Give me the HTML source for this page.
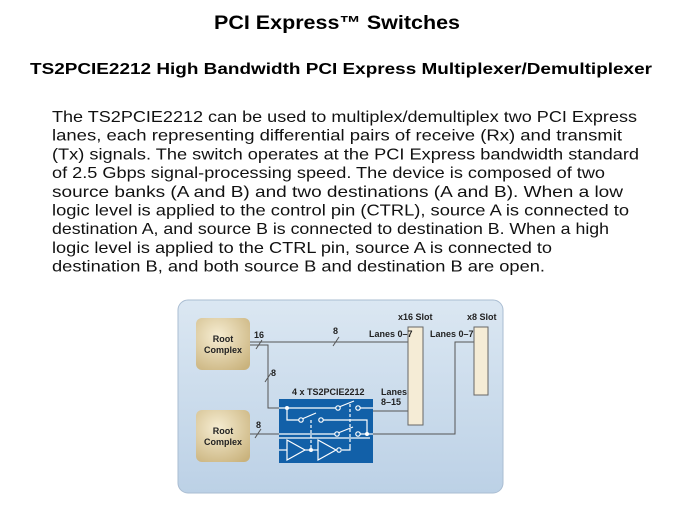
<!DOCTYPE html>
<html><head><meta charset="utf-8"><style>
html,body{margin:0;padding:0;background:#fff;}
svg{display:block}
</style></head><body>
<svg width="674" height="506" viewBox="0 0 674 506" xmlns="http://www.w3.org/2000/svg" font-family="'Liberation Sans', sans-serif">
<defs>
<linearGradient id="bg" x1="0" y1="0" x2="0" y2="1"><stop offset="0" stop-color="#dbe7f2"/><stop offset="1" stop-color="#bcd1e6"/></linearGradient>
<radialGradient id="rc" cx="0.4" cy="0.35" r="0.8"><stop offset="0" stop-color="#f6edd2"/><stop offset="1" stop-color="#c9b27c"/></radialGradient>
</defs>
<text x="337" y="29" text-anchor="middle" font-size="19" font-weight="bold" textLength="246" lengthAdjust="spacingAndGlyphs">PCI Express™ Switches</text>
<text x="341" y="74" text-anchor="middle" font-size="16" font-weight="bold" textLength="622" lengthAdjust="spacingAndGlyphs">TS2PCIE2212 High Bandwidth PCI Express Multiplexer/Demultiplexer</text>
<g font-size="16" fill="#111">
<text x="52" y="122" textLength="585" lengthAdjust="spacingAndGlyphs">The TS2PCIE2212 can be used to multiplex/demultiplex two PCI Express</text>
<text x="52" y="140.7" textLength="570" lengthAdjust="spacingAndGlyphs">lanes, each representing differential pairs of receive (Rx) and transmit</text>
<text x="52" y="159.4" textLength="587" lengthAdjust="spacingAndGlyphs">(Tx) signals. The switch operates at the PCI Express bandwidth standard</text>
<text x="52" y="178.1" textLength="553" lengthAdjust="spacingAndGlyphs">of 2.5 Gbps signal-processing speed. The device is composed of two</text>
<text x="52" y="196.8" textLength="571" lengthAdjust="spacingAndGlyphs">source banks (A and B) and two destinations (A and B). When a low</text>
<text x="52" y="215.5" textLength="577" lengthAdjust="spacingAndGlyphs">logic level is applied to the control pin (CTRL), source A is connected to</text>
<text x="52" y="234.2" textLength="557" lengthAdjust="spacingAndGlyphs">destination A, and source B is connected to destination B. When a high</text>
<text x="52" y="252.9" textLength="500" lengthAdjust="spacingAndGlyphs">logic level is applied to the CTRL pin, source A is connected to</text>
<text x="52" y="271.6" textLength="493" lengthAdjust="spacingAndGlyphs">destination B, and both source B and destination B are open.</text>
</g>
<rect x="178" y="300" width="325" height="193" rx="10" fill="url(#bg)" stroke="#aabdd2"/>
<rect x="196" y="318" width="54" height="52" rx="6" fill="url(#rc)"/>
<rect x="196" y="410" width="54" height="52" rx="6" fill="url(#rc)"/>
<g font-size="9" font-weight="bold" fill="#222" text-anchor="middle">
<text x="223" y="342">Root</text><text x="223" y="353">Complex</text>
<text x="223" y="434">Root</text><text x="223" y="445">Complex</text>
</g>
<g stroke="#555" stroke-width="1" fill="none">
<polyline points="250,342 408,342"/>
<polyline points="250,345 268,345 268,408 279,408"/>
<polyline points="373,411 408,411"/>
<polyline points="250,434 279,434"/>
<polyline points="373,434 455,434 455,342 474,342"/>
<line x1="256" y1="349" x2="262" y2="340"/><line x1="333" y1="346" x2="339" y2="337"/>
<line x1="265" y1="382" x2="271" y2="373"/><line x1="255" y1="438" x2="261" y2="429"/>
</g>
<rect x="408" y="327" width="15" height="98" fill="#f5ecd6" stroke="#666"/>
<rect x="474" y="327" width="14" height="68" fill="#f5ecd6" stroke="#666"/>
<rect x="279" y="399" width="94" height="64" fill="#1260a8"/>
<g stroke="#fff" stroke-width="1.2" fill="none">
<line x1="279" y1="408" x2="336" y2="408"/><line x1="360" y1="408" x2="373" y2="408"/>
<line x1="339" y1="407" x2="354" y2="401"/>
<polyline points="287,408 287,420 299,420"/><line x1="339" y1="420" x2="323" y2="420" stroke="none"/>
<line x1="302" y1="419" x2="316" y2="413"/>
<polyline points="323,420 367,420 367,434"/>
<line x1="279" y1="434" x2="335" y2="434"/><line x1="338" y1="433" x2="353" y2="427"/><line x1="360" y1="434" x2="373" y2="434"/>
<line x1="279" y1="438" x2="370" y2="438"/>
<line x1="279" y1="450" x2="287" y2="450"/>
<polygon points="287,440 287,460 305,450"/><polygon points="318,440 318,460 336,450"/>
<line x1="305" y1="450" x2="318" y2="450"/>
<polyline points="342,450 350,450 350,446"/>
<line x1="311" y1="420" x2="311" y2="450" stroke-dasharray="3,2"/>
<line x1="350" y1="404" x2="350" y2="446" stroke-dasharray="3,2"/>
<circle cx="338" cy="408" r="2.2" fill="#1260a8"/><circle cx="358" cy="408" r="2.2" fill="#1260a8"/>
<circle cx="301" cy="420" r="2.2" fill="#1260a8"/><circle cx="321" cy="420" r="2.2" fill="#1260a8"/>
<circle cx="337" cy="434" r="2.2" fill="#1260a8"/><circle cx="358" cy="434" r="2.2" fill="#1260a8"/>
<circle cx="339" cy="450" r="2.2" fill="#1260a8"/>
</g>
<g fill="#fff"><circle cx="287" cy="408" r="2"/><circle cx="367" cy="434" r="2"/><circle cx="311" cy="450" r="2"/></g>
<g font-size="9" font-weight="bold" fill="#222">
<text x="254" y="338">16</text><text x="333" y="334">8</text><text x="271" y="376">8</text><text x="256" y="428">8</text>
<text x="292" y="395">4 x TS2PCIE2212</text>
<text x="369" y="337">Lanes 0–7</text><text x="430" y="337">Lanes 0–7</text>
<text x="398" y="320">x16 Slot</text><text x="467" y="320">x8 Slot</text>
<text x="381" y="395">Lanes</text><text x="381" y="405">8–15</text>
</g>
</svg>
</body></html>
